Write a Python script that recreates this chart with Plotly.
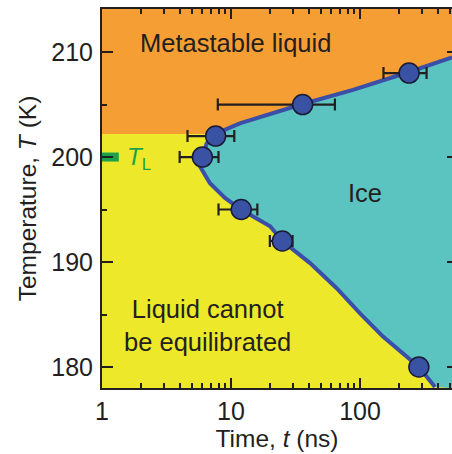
import plotly.graph_objects as go

# Axis limits: time (ns, log scale) and temperature (K)
LOG_T_MIN, LOG_T_MAX = 0.0, 2.713
T_MIN, T_MAX = 178.0, 214.1
t_max = 10 ** LOG_T_MAX

# Below this temperature the liquid cannot be equilibrated before it freezes
T_equil = 202.2

# Ice / liquid boundary, from the long-time end down to the bottom of the range
boundary_t = [517, 240, 88.3, 35.9, 11.7, 8.2, 7.6, 6.48, 6.0, 5.75, 6.87,
              8.98, 11.96, 20.1, 25.0, 41.0, 65.9, 100, 150.7, 286, 381]
boundary_T = [209.5, 208.1, 206.4, 205.05, 203.2, 202.4, 202.0, 201.3, 200.0,
              199.1, 197.5, 196.1, 195.0, 193.4, 192.0, 189.9, 187.5, 185.1,
              182.9, 180.0, 178.1]

# Measured crystallization onset times with their uncertainties
meas_t = [240, 35.9, 7.6, 6.0, 12.0, 25.0, 286]
meas_T = [208, 205, 202, 200, 195, 192, 180]
meas_err = [88, 28, 3, 2, 4, 5, 0]

# Liquidus temperature marker on the temperature axis
T_L = 200
T_L_bar_t = [1, 1.35]

# Axis ticks
x_major = [1, 10, 100]
x_minor = [2, 3, 4, 5, 6, 7, 8, 9, 20, 30, 40, 50, 60, 70, 80, 90,
           200, 300, 400, 500]
y_major = [180, 190, 200, 210]
y_minor = [185, 195, 205]

ORANGE = "#F59E33"
YELLOW = "#EEE82B"
TEAL = "#5BC4C1"
BLUE_LINE = "#3B4FA8"
MARKER = "#3A52A3"
GREEN = "#1BA14B"
INK = "#231F20"
FONT = "Liberation Sans"

fig = go.Figure()

# Metastable liquid region (above T_equil)
fig.add_trace(go.Scatter(
    x=[1, t_max, t_max, 1], y=[T_equil, T_equil, T_MAX, T_MAX],
    fill="toself", fillcolor=ORANGE, mode="lines", line=dict(width=0),
    hoverinfo="skip", showlegend=False))

# Ice region (right of the boundary)
fig.add_trace(go.Scatter(
    x=boundary_t + [t_max, t_max], y=boundary_T + [T_MIN, boundary_T[0]],
    fill="toself", fillcolor=TEAL, mode="lines", line=dict(width=0),
    hoverinfo="skip", showlegend=False))

# Boundary line
fig.add_trace(go.Scatter(
    x=boundary_t, y=boundary_T, mode="lines",
    line=dict(color=BLUE_LINE, width=4), hoverinfo="skip", showlegend=False))

# Liquidus marker
fig.add_trace(go.Scatter(
    x=T_L_bar_t, y=[T_L, T_L], mode="lines",
    line=dict(color=GREEN, width=9), hoverinfo="skip", showlegend=False))

# Measurements
fig.add_trace(go.Scatter(
    x=meas_t, y=meas_T, mode="markers",
    marker=dict(size=20, color=MARKER, line=dict(color="#1B1B33", width=1.5)),
    error_x=dict(type="data", array=meas_err, color=INK, thickness=2.2, width=6),
    showlegend=False))

# Right-hand tick marks only (no spine)
fig.add_trace(go.Scatter(x=[None], y=[None], yaxis="y2", showlegend=False,
                         hoverinfo="skip"))

text_font = dict(family=FONT, size=25.5, color=INK)
annotations = [
    dict(x=1.037, y=210.9, text="Metastable liquid", showarrow=False,
         font=text_font),
    dict(x=2.04, y=196.6, text="Ice", showarrow=False, font=text_font),
    dict(x=0.82, y=184.0, text="Liquid cannot<br>be equilibrated",
         showarrow=False, font=text_font),
    dict(x=0.175, y=199.9, text="<i>T</i><sub>L</sub>", showarrow=False,
         xanchor="left", font=dict(family=FONT, size=24, color=GREEN)),
]

axis_common = dict(
    showline=True, linecolor=INK, linewidth=2, ticks="inside",
    tickcolor=INK, tickwidth=2, showgrid=False, zeroline=False,
    tickfont=dict(family=FONT, size=25, color=INK),
)

title_font = dict(family=FONT, size=24.5, color=INK)

fig.update_layout(
    width=452, height=454,
    margin=dict(l=102, r=0, t=9, b=66),
    plot_bgcolor=YELLOW, paper_bgcolor="white",
    annotations=annotations,
    xaxis=dict(
        type="log", range=[LOG_T_MIN, LOG_T_MAX],
        tickvals=x_major, ticktext=[str(v) for v in x_major], ticklen=10,
        mirror="ticks",
        minor=dict(tickvals=x_minor, ticks="inside", ticklen=5,
                   tickwidth=1.6, tickcolor=INK),
        title=dict(text="Time, <i>t</i> (ns)", standoff=4, font=title_font),
        **axis_common),
    yaxis=dict(
        range=[T_MIN, T_MAX], tickvals=y_major, ticklen=11,
        minor=dict(tickvals=y_minor, ticks="inside", ticklen=5,
                   tickwidth=1.6, tickcolor=INK),
        ticklabelstandoff=2,
        title=dict(text="Temperature, <i>T</i> (K)", standoff=8,
                   font=title_font),
        **axis_common),
    yaxis2=dict(
        overlaying="y", side="right", anchor="x", range=[T_MIN, T_MAX],
        tickvals=y_major, ticks="inside", ticklen=5, tickwidth=2,
        tickcolor=INK, showticklabels=False, showline=False,
        showgrid=False, zeroline=False),
)

fig.write_html("out.html")
